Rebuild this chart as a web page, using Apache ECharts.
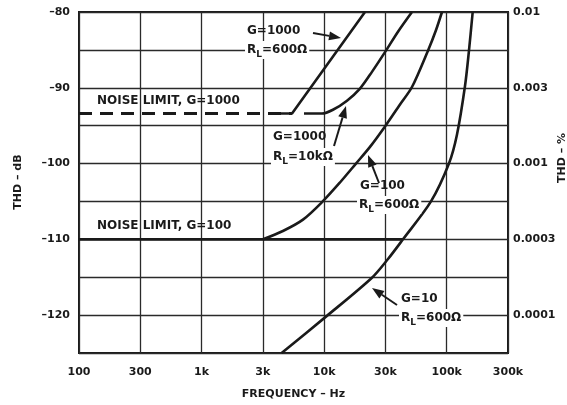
<!DOCTYPE html>
<html><head><meta charset="utf-8">
<script src="https://cdn.jsdelivr.net/npm/echarts@6/dist/echarts.min.js"></script>
<style>html,body{margin:0;padding:0;background:#fff}#c{width:567px;height:405px}</style>
</head><body><div id="c"></div>
<script>
// ---- data ----
const xTickLabels = ['100','300','1k','3k','10k','30k','100k','300k'];
const yTickValues = [-80, -90, -100, -110, -120];
const rightTickLabels = ['0.01','0.003','0.001','0.0003','0.0001'];

const noiseG1000Freq = [100, 5470];
const noiseG1000Thd  = [-93.4, -93.4];
const noiseG100Freq  = [100, 44000];
const noiseG100Thd   = [-110, -110];

const g1000r600Freq = [4000, 5470, 21540];
const g1000r600Thd  = [-93.4, -93.4, -80];

const g1000r10kFreq = [6850, 9600, 11800, 15360, 19610, 24550, 31370, 40040, 52060];
const g1000r10kThd  = [-93.4, -93.4, -92.9, -91.7, -90.1, -87.9, -85.3, -82.6, -80];

const g100r600Freq = [3170, 4610, 6720, 9600, 13460, 18190, 23660, 31370, 41590, 52060, 70300, 81700, 91500];
const g100r600Thd  = [-110, -108.9, -107.4, -105.1, -102.5, -100, -97.8, -95.1, -92.2, -89.9, -85.1, -82.4, -80];

const g10r600Freq = [4500, 10350, 24430, 33190, 43970, 74400, 104300, 121200, 140900, 151900, 162900];
const g10r600Thd  = [-125, -120.2, -115.1, -112.6, -110, -105, -100, -96.2, -89.8, -85.1, -80];

// ---- build ----
const zip = (a, b) => a.map((v, i) => [v, b[i]]);
const FONT = '"DejaVu Sans", sans-serif';
const INK = '#1a1a1a';

function curve(freq, thd, dashed, smooth) {
  return {
    type: 'line', data: zip(freq, thd), symbol: 'none',
    smooth: smooth || false,
    lineStyle: { color: INK, width: dashed ? 3 : 2.6, type: dashed ? [13, 8] : 'solid' },
    z: 5, silent: true
  };
}

function txt(x, y, text, bg) {
  return {
    type: 'text', x: x, y: y, z: 20,
    style: {
      text: text, fill: INK, verticalAlign: 'middle', align: 'left',
      font: 'bold 12px ' + FONT,
      backgroundColor: bg ? '#fff' : null, padding: bg ? [0, 2, 0, 2] : 0,
      rich: {
        n: { font: 'bold 12px ' + FONT, fill: INK, lineHeight: 18, verticalAlign: 'middle' },
        s: { font: 'bold 9px ' + FONT, fill: INK, lineHeight: 10, verticalAlign: 'bottom' }
      }
    }
  };
}

function arrow(x1, y1, x2, y2) {
  const ang = Math.atan2(y2 - y1, x2 - x1);
  const L = 12, W = 4.5;
  const bx = x2 - L * Math.cos(ang), by = y2 - L * Math.sin(ang);
  const px = -Math.sin(ang) * W, py = Math.cos(ang) * W;
  return [
    { type: 'line', z: 20, shape: { x1: x1, y1: y1, x2: bx, y2: by }, style: { stroke: INK, lineWidth: 2 } },
    { type: 'polygon', z: 20, shape: { points: [[x2, y2], [bx + px, by + py], [bx - px, by - py]] }, style: { fill: INK } }
  ];
}

const chart = echarts.init(document.getElementById('c'), null, { renderer: 'canvas' });
chart.setOption({
  backgroundColor: '#fff',
  animation: false,
  grid: { left: 79, right: 59, top: 12, bottom: 51, show: true, borderColor: INK, borderWidth: 2, backgroundColor: 'transparent' },
  xAxis: {
    type: 'log', logBase: Math.sqrt(10), min: 100, max: 316227.766, splitNumber: 7,
    axisLine: { show: false }, axisTick: { show: false },
    splitLine: { show: true, lineStyle: { color: '#2a2a2a', width: 1.3 } },
    axisLabel: {
      margin: 14, color: INK, fontFamily: FONT, fontWeight: 'bold', fontSize: 11,
      formatter: v => xTickLabels[Math.round(2 * Math.log10(v / 100))] || ''
    },
    name: 'FREQUENCY \u2013 Hz', nameLocation: 'middle', nameGap: 36,
    nameTextStyle: { color: INK, fontFamily: FONT, fontWeight: 'bold', fontSize: 11 }
  },
  yAxis: [{
    type: 'value', min: -125, max: -80, interval: 5,
    axisLine: { show: false }, axisTick: { show: false },
    splitLine: { show: true, lineStyle: { color: '#2a2a2a', width: 1.3 } },
    axisLabel: {
      margin: 9, color: INK, fontFamily: FONT, fontWeight: 'bold', fontSize: 11,
      formatter: v => (yTickValues.indexOf(v) >= 0 ? '\u2013' + Math.abs(v) : '')
    }
  }, {
    type: 'value', position: 'right', min: -125, max: -80, interval: 5,
    axisLine: { show: false }, axisTick: { show: false }, splitLine: { show: false },
    axisLabel: {
      margin: 5, color: INK, fontFamily: FONT, fontWeight: 'bold', fontSize: 11,
      formatter: v => { const i = yTickValues.indexOf(v); return i >= 0 ? rightTickLabels[i] : ''; }
    }
  }],
  series: [
    curve(noiseG1000Freq, noiseG1000Thd, true),
    curve(noiseG100Freq, noiseG100Thd, false),
    curve(g1000r600Freq, g1000r600Thd, false),
    curve(g1000r10kFreq, g1000r10kThd, false, 0.3),
    curve(g100r600Freq, g100r600Thd, false, 0.3),
    curve(g10r600Freq, g10r600Thd, false, 0.3)
  ],
  graphic: [
    { type: 'text', x: 18, y: 182, rotation: Math.PI / 2, z: 20,
      style: { text: 'THD \u2013 dB', fill: INK, font: 'bold 11px ' + FONT, align: 'center', verticalAlign: 'middle' } },
    { type: 'text', x: 562, y: 158, rotation: Math.PI / 2, z: 20,
      style: { text: 'THD \u2013 %', fill: INK, font: 'bold 11px ' + FONT, align: 'center', verticalAlign: 'middle' } },
    txt(97, 101, 'NOISE LIMIT, G=1000', false),
    txt(97, 226, 'NOISE LIMIT, G=100', false),
    txt(247, 31, 'G=1000', false),
    txt(245, 50, '{n|R}{s|L}{n|=600\u03A9}', true),
    txt(273, 137, 'G=1000', false),
    txt(271, 157, '{n|R}{s|L}{n|=10k\u03A9}', true),
    txt(360, 186, 'G=100', false),
    txt(357, 205, '{n|R}{s|L}{n|=600\u03A9}', true),
    txt(401, 299, 'G=10', false),
    txt(399, 318, '{n|R}{s|L}{n|=600\u03A9}', true)
  ].concat(arrow(313, 33, 341, 38), arrow(334, 146, 346, 106), arrow(379, 183, 368, 155), arrow(397, 305, 372, 288))
});
</script></body></html>
